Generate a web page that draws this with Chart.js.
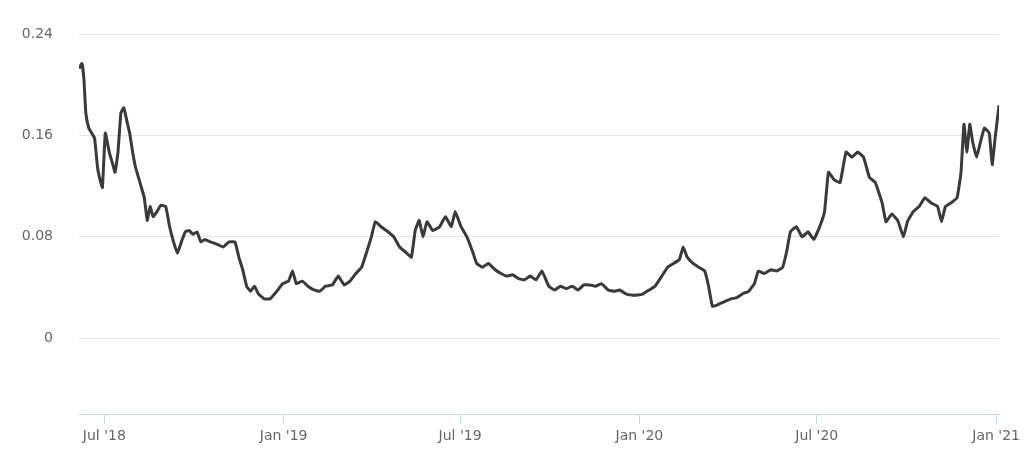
<!DOCTYPE html>
<html>
<head>
<script src="https://cdn.jsdelivr.net/npm/chart.js"></script>
<style>
  body { margin:0; background:#fff; }
  #wrap { width:1024px; height:459px; }
</style>
</head>
<body>
<div id="wrap"><canvas id="c"></canvas></div>
<script>
// days since 2018-06-05
const days = [0,3,5,7,10,13,16,19,21,24,27,31,34,37,40,43,46,49,52,55,58,61,64,67,70,73,76,80,84,89,93,97,101,105,109,113,117,121,125,129,135,142,148,154,160,164,168,172,176,180,184,190,196,203,209,215,219,223,229,235,241,247,253,260,266,272,278,284,290,296,300,304,310,317,323,329,335,341,345,349,353,357,363,370,376,382,386,392,398,404,408,414,420,427,433,439,445,451,457,463,469,475,482,488,494,500,506,512,518,524,530,536,543,549,555,561,567,573,579,585,591,598,604,610,616,620,624,630,636,642,646,650,657,663,669,675,681,687,693,697,703,710,716,722,726,730,736,742,748,754,760,765,769,775,781,787,793,799,805,811,817,824,828,834,840,846,850,856,862,868,874,881,885,889,895,901,905,908,911,914,917,921,925,929,934,937,940,944];
const values = [0.213,0.217,0.205,0.178,0.166,0.162,0.158,0.135,0.127,0.119,0.162,0.147,0.139,0.131,0.147,0.178,0.182,0.172,0.162,0.147,0.135,0.127,0.119,0.111,0.093,0.104,0.096,0.100,0.105,0.104,0.088,0.076,0.067,0.076,0.084,0.085,0.082,0.084,0.076,0.078,0.076,0.074,0.072,0.076,0.076,0.064,0.054,0.041,0.037,0.041,0.035,0.031,0.031,0.037,0.043,0.045,0.053,0.043,0.045,0.041,0.038,0.037,0.041,0.042,0.049,0.042,0.045,0.051,0.056,0.070,0.080,0.092,0.088,0.084,0.080,0.072,0.068,0.064,0.085,0.093,0.080,0.092,0.085,0.088,0.096,0.088,0.100,0.088,0.080,0.068,0.059,0.056,0.059,0.054,0.051,0.049,0.050,0.047,0.046,0.049,0.046,0.053,0.041,0.038,0.041,0.039,0.041,0.038,0.042,0.042,0.041,0.043,0.038,0.037,0.038,0.035,0.034,0.034,0.035,0.038,0.041,0.049,0.056,0.059,0.062,0.072,0.064,0.059,0.056,0.053,0.041,0.025,0.027,0.029,0.031,0.032,0.035,0.037,0.043,0.053,0.051,0.054,0.053,0.056,0.068,0.084,0.088,0.080,0.084,0.078,0.088,0.100,0.131,0.125,0.123,0.147,0.143,0.147,0.143,0.127,0.123,0.107,0.092,0.098,0.093,0.080,0.092,0.100,0.104,0.111,0.107,0.104,0.092,0.104,0.107,0.111,0.131,0.169,0.147,0.169,0.155,0.143,0.155,0.166,0.162,0.137,0.158,0.184];
const tickDays = [26,210,391,575,757,941];
const tickLabels = ["Jul '18","Jan '19","Jul '19","Jan '20","Jul '20","Jan '21"];
const yTicks = [0,0.08,0.16,0.24];

new Chart(document.getElementById('c'), {
  type: 'line',
  data: { datasets: [{
    data: days.map((d, i) => ({ x: d, y: values[i] })),
    borderColor: '#3a3a3c', borderWidth: 3, pointRadius: 0, tension: 0.1
  }]},
  options: {
    responsive: true, maintainAspectRatio: false, animation: false,
    layout: { padding: { top: 25, right: 18, left: 0, bottom: 0 } },
    plugins: { legend: { display: false }, tooltip: { enabled: false } },
    scales: {
      x: {
        type: 'linear', min: 0, max: 944,
        afterBuildTicks: s => { s.ticks = tickDays.map(v => ({ value: v })); },
        afterFit: s => { s.height = 45; },
        ticks: { callback: (v) => tickLabels[tickDays.indexOf(v)], color: '#666', font: { family: 'DejaVu Sans', size: 14 }, maxRotation: 0, padding: 4 },
        grid: { drawOnChartArea: false, color: '#ccd6eb', tickLength: 10 },
        border: { color: '#ccd6eb', width: 1 }
      },
      y: {
        min: -0.06, max: 0.24,
        afterBuildTicks: s => { s.ticks = yTicks.map(v => ({ value: v })); },
        afterFit: s => { s.width = 79; },
        ticks: { callback: v => String(v), color: '#666', font: { family: 'DejaVu Sans', size: 14 }, padding: 26 },
        grid: { color: '#e6e6e6', drawTicks: false },
        border: { display: false }
      }
    }
  }
});
</script>
</body>
</html>
